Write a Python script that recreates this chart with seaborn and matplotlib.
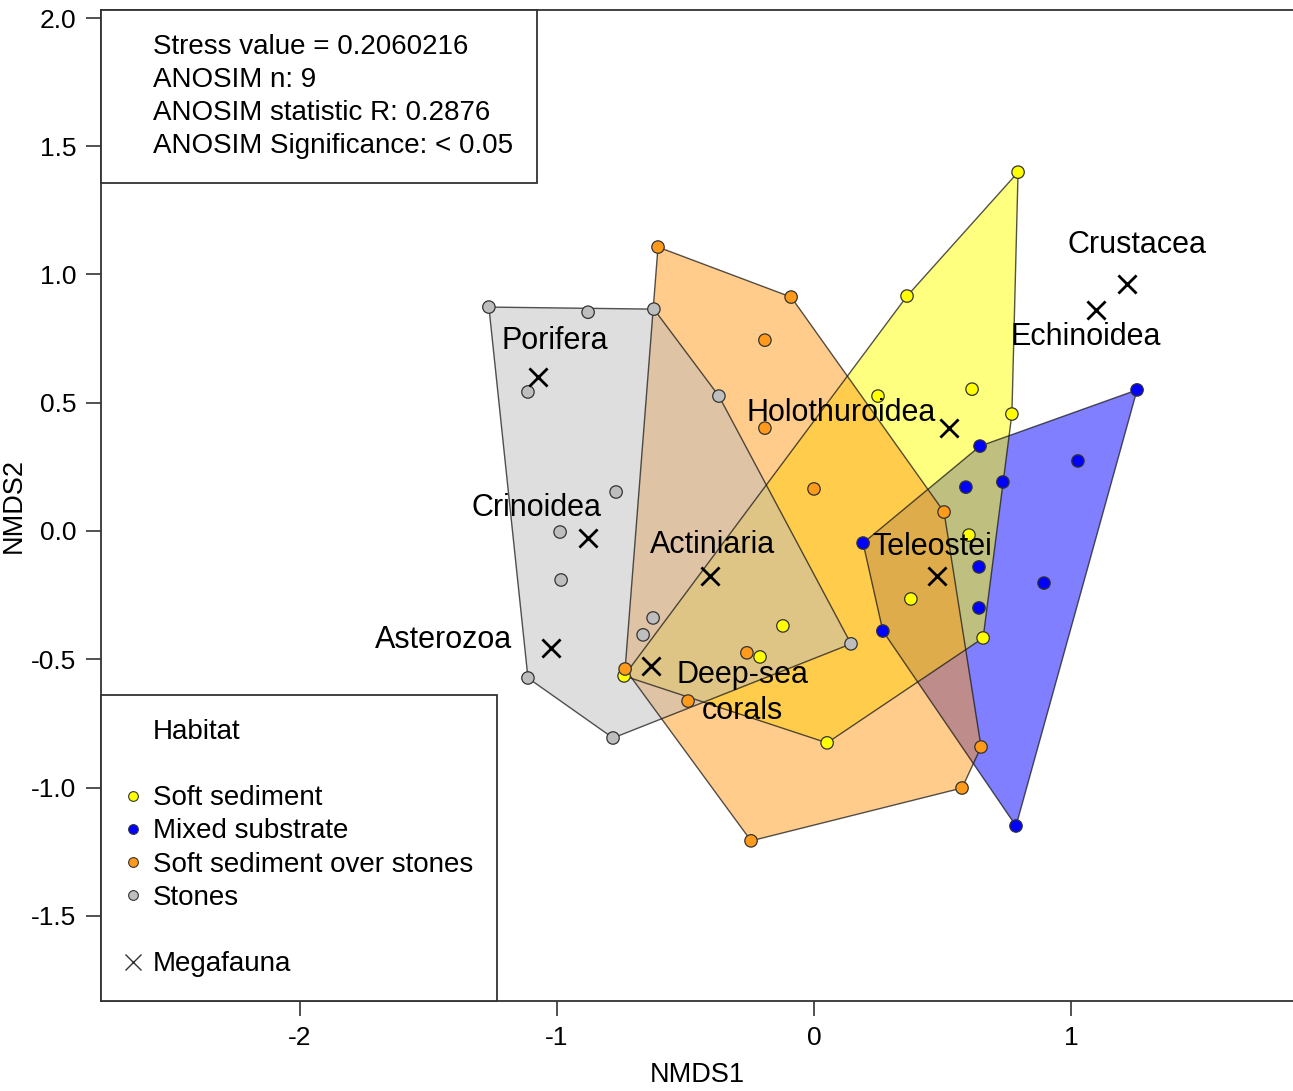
import numpy as np
import pandas as pd
import matplotlib
matplotlib.use("Agg")
import matplotlib.pyplot as plt
from matplotlib.lines import Line2D
from matplotlib.patches import Polygon
import seaborn as sns

# ---- NMDS site scores by habitat ----
soft_x = [0.794, 0.362, 0.249, 0.615, 0.770, 0.603, 0.377, 0.658, -0.121, -0.210, -0.739, 0.051]
soft_y = [1.399, 0.916, 0.526, 0.553, 0.456, -0.016, -0.265, -0.417, -0.370, -0.491, -0.565, -0.826]

mixed_x = [1.257, 1.027, 0.646, 0.591, 0.735, 0.191, 0.642, 0.895, 0.642, 0.268, 0.786]
mixed_y = [0.550, 0.273, 0.331, 0.171, 0.191, -0.047, -0.140, -0.203, -0.300, -0.390, -1.150]

overst_x = [-0.607, -0.089, -0.191, -0.191, 0.000, 0.506, -0.735, -0.261, -0.490, 0.650, 0.576, -0.245]
overst_y = [1.107, 0.912, 0.744, 0.401, 0.164, 0.074, -0.538, -0.475, -0.663, -0.842, -1.002, -1.208]

stones_x = [-1.265, -0.879, -0.623, -0.370, -1.113, -0.770, -0.988, -0.984, -0.626, -0.665, -1.113, -0.782, 0.144]
stones_y = [0.873, 0.853, 0.865, 0.526, 0.542, 0.152, -0.004, -0.191, -0.339, -0.405, -0.573, -0.807, -0.440]

habitats = ["Soft sediment", "Mixed substrate", "Soft sediment over stones", "Stones"]
habitat_colors = ["#FFFF00", "#0000FF", "#FF9A1A", "#BEBEBE"]

# ---- Megafauna species scores ----
taxa = ["Porifera", "Crinoidea", "Asterozoa", "Actiniaria", "Deep-sea\ncorals",
        "Teleostei", "Holothuroidea", "Echinoidea", "Crustacea"]
taxa_x = [-1.074, -0.879, -1.023, -0.405, -0.634, 0.479, 0.525, 1.097, 1.218]
taxa_y = [0.600, -0.027, -0.456, -0.175, -0.526, -0.175, 0.401, 0.861, 0.963]

stats_lines = ["Stress value = 0.2060216", "ANOSIM n: 9",
               "ANOSIM statistic R: 0.2876", "ANOSIM Significance: < 0.05"]

# label placement around each cross (pixels)
label_offsets = {
    "Porifera": (17, 36), "Crinoidea": (-52, 30), "Asterozoa": (-108, 8),
    "Actiniaria": (3, 31), "Deep-sea\ncorals": (91, -27), "Teleostei": (-5, 29),
    "Holothuroidea": (-108, 15), "Echinoidea": (-10, -27), "Crustacea": (10, 39),
}

sites = pd.DataFrame({
    "NMDS1": soft_x + mixed_x + overst_x + stones_x,
    "NMDS2": soft_y + mixed_y + overst_y + stones_y,
    "Habitat": ([habitats[0]] * len(soft_x) + [habitats[1]] * len(mixed_x)
                + [habitats[2]] * len(overst_x) + [habitats[3]] * len(stones_x)),
})
palette = dict(zip(habitats, habitat_colors))

sns.set_style("ticks")
plt.rcParams["font.family"] = ["Liberation Sans", "DejaVu Sans"]
plt.rcParams["axes.unicode_minus"] = False
for key in ["text.color", "axes.labelcolor", "xtick.labelcolor", "ytick.labelcolor"]:
    plt.rcParams[key] = "black"

W, H = 1293, 1091
fig = plt.figure(figsize=(W / 100, H / 100), dpi=100)
left, right, bottom, top = 101, 1294, 1001, 10
ax = fig.add_axes([left / W, (H - bottom) / H, (right - left) / W, (bottom - top) / H])

x_per_unit = 257.0
y_per_unit = 256.5
ax.set_xlim(-2 - (300 - left) / x_per_unit, (right - 814) / x_per_unit)
ax.set_ylim(-(bottom - 531) / y_per_unit, (531 - top) / y_per_unit)


def convex_hull(pts):
    pts = sorted(set(pts))
    if len(pts) < 3:
        return pts

    def cross(o, a, b):
        return (a[0] - o[0]) * (b[1] - o[1]) - (a[1] - o[1]) * (b[0] - o[0])

    lower, upper = [], []
    for p in pts:
        while len(lower) >= 2 and cross(lower[-2], lower[-1], p) <= 0:
            lower.pop()
        lower.append(p)
    for p in reversed(pts):
        while len(upper) >= 2 and cross(upper[-2], upper[-1], p) <= 0:
            upper.pop()
        upper.append(p)
    return lower[:-1] + upper[:-1]


# hulls drawn in alphabetical order of habitat
for hab in sorted(habitats):
    sub = sites[sites["Habitat"] == hab]
    hull = convex_hull(list(zip(sub["NMDS1"], sub["NMDS2"])))
    ax.add_patch(Polygon(hull, closed=True, facecolor=palette[hab], alpha=0.5,
                         edgecolor="none", zorder=2))
    ax.add_patch(Polygon(hull, closed=True, facecolor="none",
                         edgecolor=(0.1, 0.1, 0.1, 0.75), linewidth=1.0, zorder=2.1))

sns.scatterplot(data=sites, x="NMDS1", y="NMDS2", hue="Habitat", palette=palette,
                s=80, edgecolor="#333333", linewidth=0.9, legend=False, ax=ax, zorder=3)

ax.scatter(taxa_x, taxa_y, marker="x", s=170, color="black", linewidths=2.0, zorder=4)
for name, tx, ty in zip(taxa, taxa_x, taxa_y):
    dx, dy = label_offsets[name]
    ax.annotate(name, (tx, ty), xytext=(dx, dy), textcoords="offset pixels",
                ha="center", va="center", fontsize=22, linespacing=1.25, zorder=5)

# axes styling
ax.set_xticks([-2, -1, 0, 1])
ax.set_xticklabels(["-2", "-1", "0", "1"])
ax.set_yticks([-1.5, -1.0, -0.5, 0.0, 0.5, 1.0, 1.5, 2.0])
ax.set_yticklabels(["-1.5", "-1.0", "-0.5", "0.0", "0.5", "1.0", "1.5", "2.0"])
ax.tick_params(axis="both", direction="out", length=11, width=1.2, labelsize=19,
               color="#333333", pad=7)
for sp in ax.spines.values():
    sp.set_linewidth(1.3)
    sp.set_color("#333333")
ax.set_xlabel("NMDS1", fontsize=19.5, labelpad=9)
ax.set_ylabel("NMDS2", fontsize=19.5, labelpad=3)

blank = Line2D([], [], linestyle="none", marker="none")
legend_kw = dict(frameon=True, fancybox=False, borderaxespad=0, fontsize=20,
                 handlelength=0.6, handletextpad=0.43, labelspacing=0.26,
                 borderpad=0.85, edgecolor="#333333", framealpha=1)

# statistics box (top left)
stats_leg = ax.legend([blank] * len(stats_lines), stats_lines, loc="upper left", **legend_kw)
stats_leg.get_frame().set_linewidth(1.3)
ax.add_artist(stats_leg)

# habitat legend (bottom left)
def pt(color):
    return Line2D([], [], linestyle="none", marker="o", markersize=7,
                  markerfacecolor=color, markeredgecolor="#333333", markeredgewidth=0.8)

hab_handles = [blank, blank] + [pt(c) for c in habitat_colors] + [
    blank, Line2D([], [], linestyle="none", marker="x", markersize=11,
                  color="#333333", markeredgewidth=1.0)]
hab_labels = ["Habitat", ""] + habitats + ["", "Megafauna"]
hab_leg = ax.legend(hab_handles, hab_labels, loc="lower left", **legend_kw)
hab_leg.get_frame().set_linewidth(1.3)

fig.savefig("out.png", dpi=100)
